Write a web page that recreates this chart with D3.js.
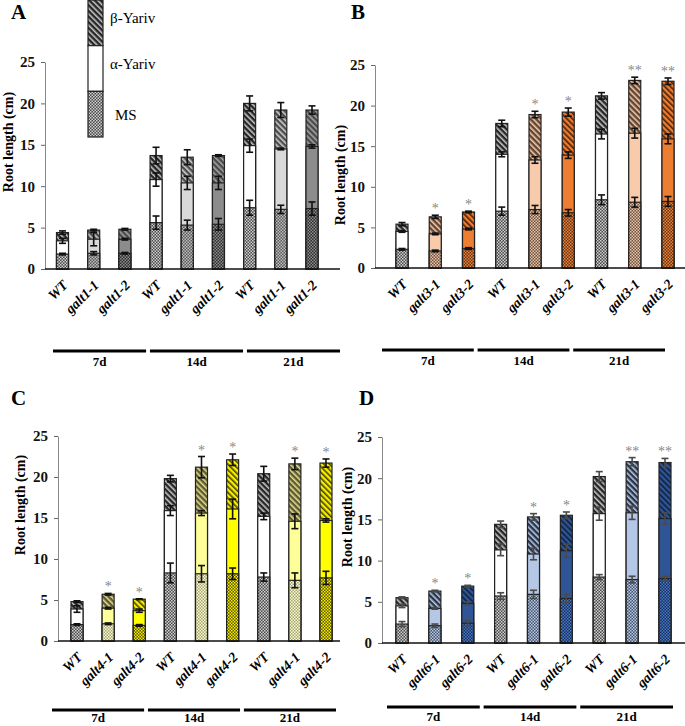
<!DOCTYPE html>
<html><head><meta charset="utf-8">
<script src="https://cdn.jsdelivr.net/npm/d3@7"></script>
<style>body{margin:0;background:#fff} svg{display:block}</style>
</head><body>
<svg id="c" width="685" height="726"></svg>
<script>
// ---------- DATA ----------
const days = ["7d", "14d", "21d"];
const yTicks = [0, 5, 10, 15, 20, 25];
const legendLabels = ["β-Yariv", "α-Yariv", "MS"];
const yTitle = "Root length (cm)";

const genoA = ["WT", "galt1-1", "galt1-2"];
const genoB = ["WT", "galt3-1", "galt3-2"];
const genoC = ["WT", "galt4-1", "galt4-2"];
const genoD = ["WT", "galt6-1", "galt6-2"];

// order: 7d(WT, m1, m2), 14d(WT, m1, m2), 21d(WT, m1, m2)
const msA    = [1.8, 1.9, 1.9, 5.6, 5.3, 5.4, 7.4, 7.2, 7.3];
const alphaA = [3.4, 3.6, 3.6, 10.8, 10.4, 10.4, 14.9, 14.5, 14.8];
const betaA  = [4.4, 4.7, 4.8, 13.7, 13.5, 13.7, 20.0, 19.2, 19.2];
const msErrA    = [0.1, 0.2, 0.1, 0.8, 0.6, 0.7, 0.9, 0.5, 0.8];
const alphaErrA = [0.3, 0.8, 0.1, 0.8, 0.8, 0.8, 0.8, 0.1, 0.2];
const betaErrA  = [0.2, 0.1, 0.1, 1.0, 0.9, 0.1, 0.9, 0.9, 0.5];
const starsA = ["", "", "", "", "", "", "", "", ""];

const msB    = [2.3, 2.1, 2.4, 7.0, 7.2, 6.8, 8.4, 8.1, 8.2];
const alphaB = [4.5, 4.2, 4.8, 14.0, 13.3, 13.9, 16.5, 16.6, 15.9];
const betaB  = [5.4, 6.3, 6.9, 17.8, 18.9, 19.2, 21.2, 23.1, 23.0];
const msErrB    = [0.1, 0.1, 0.1, 0.5, 0.5, 0.4, 0.6, 0.6, 0.6];
const alphaErrB = [0.1, 0.1, 0.1, 0.3, 0.4, 0.4, 0.6, 0.6, 0.6];
const betaErrB  = [0.2, 0.2, 0.1, 0.4, 0.4, 0.5, 0.4, 0.4, 0.4];
const starsB = ["", "*", "*", "", "*", "*", "", "**", "**"];

const msC    = [2.0, 2.1, 1.9, 8.3, 8.2, 8.2, 7.8, 7.4, 7.7];
const alphaC = [3.9, 4.0, 3.7, 15.9, 15.6, 16.1, 15.2, 14.6, 14.7];
const betaC  = [4.8, 5.7, 5.1, 19.8, 21.2, 22.1, 20.4, 21.6, 21.7];
const msErrC    = [0.1, 0.1, 0.1, 1.2, 1.0, 0.7, 0.5, 0.9, 0.8];
const alphaErrC = [0.4, 0.1, 0.2, 0.6, 0.3, 1.2, 0.4, 0.9, 0.2];
const betaErrC  = [0.1, 0.1, 0.05, 0.4, 1.3, 0.7, 0.9, 0.7, 0.5];
const starsC = ["", "*", "*", "", "*", "*", "", "*", "*"];

const msD    = [2.3, 2.1, 2.4, 5.7, 5.9, 5.4, 8.0, 7.7, 7.8];
const alphaD = [4.5, 4.2, 4.8, 11.3, 10.8, 11.2, 15.7, 15.8, 15.1];
const betaD  = [5.5, 6.3, 6.9, 14.4, 15.3, 15.5, 20.2, 22.0, 21.9];
const msErrD    = [0.3, 0.2, 0.3, 0.4, 0.5, 0.5, 0.3, 0.4, 0.3];
const alphaErrD = [0.2, 0.1, 0.2, 0.7, 0.7, 0.8, 0.8, 0.8, 0.7];
const betaErrD  = [0.1, 0.1, 0.1, 0.4, 0.4, 0.4, 0.6, 0.5, 0.5];
const starsD = ["", "*", "*", "", "*", "*", "", "**", "**"];

// ---------- STYLE / LAYOUT ----------
const serif = "Liberation Serif, Times New Roman, Times, serif";
const wtStyle = {ms: ["#4a4a4a", "#cfcfcf"], alpha: "#ffffff", beta: ["#262626", "#c4c4c4"]};
const panels = [
  {letter: "A", geno: genoA, ms: msA, al: alphaA, be: betaA, msE: msErrA, alE: alphaErrA, beE: betaErrA, stars: starsA,
   lx: 11, ly: 19, axisX: 45, xEnd: 340, y0: 269, y25: 62, first: 62.5, last: 312, grp: [53, 340], lineY: 351, dayY: 366,
   titleX: 13, titleY: 142, errCol: "#111",
   styles: [wtStyle,
     {ms: ["#5a5a5a", "#bdbdbd"], alpha: "#d9d9d9", beta: ["#4d4d4d", "#cdcdcd"]},
     {ms: ["#2f2f2f", "#8a8a8a"], alpha: "#8c8c8c", beta: ["#4a4a4a", "#a3a3a3"]}]},
  {letter: "B", geno: genoB, ms: msB, al: alphaB, be: betaB, msE: msErrB, alE: alphaErrB, beE: betaErrB, stars: starsB,
   lx: 351, ly: 19, axisX: 375, xEnd: 685, y0: 268, y25: 65, first: 402, last: 668, grp: [382, 665], lineY: 350, dayY: 365,
   titleX: 345, titleY: 175, errCol: "#111",
   styles: [wtStyle,
     {ms: ["#6e5444", "#e9c2a6"], alpha: "#f8cbad", beta: ["#5e4535", "#f2c6a5"]},
     {ms: ["#6b3513", "#e8823b"], alpha: "#ed7d31", beta: ["#ed7d31", "#4a2208"]}]},
  {letter: "C", geno: genoC, ms: msC, al: alphaC, be: betaC, msE: msErrC, alE: alphaErrC, beE: betaErrC, stars: starsC,
   lx: 11, ly: 405, axisX: 58, xEnd: 340, y0: 641, y25: 436, first: 77, last: 326, grp: [52, 336], lineY: 710, dayY: 722,
   titleX: 25, titleY: 505, errCol: "#111",
   styles: [wtStyle,
     {ms: ["#fbfbc8", "#a3a37a"], alpha: "#ffff99", beta: ["#5c5a35", "#e2dc8a"]},
     {ms: ["#5f5a00", "#f5ee00"], alpha: "#ffff00", beta: ["#f5ee00", "#4a4500"]}]},
  {letter: "D", geno: genoD, ms: msD, al: alphaD, be: betaD, msE: msErrD, alE: alphaErrD, beE: betaErrD, stars: starsD,
   lx: 359, ly: 405, axisX: 382, xEnd: 685, y0: 643, y25: 437, first: 402, last: 665, grp: [387, 673], lineY: 707, dayY: 721,
   titleX: 352, titleY: 517, errCol: "#4a4a4a",
   styles: [wtStyle,
     {ms: ["#45546b", "#b8c9e6"], alpha: "#b4c7e7", beta: ["#2b3444", "#b4c7e7"]},
     {ms: ["#16305a", "#4a78c8"], alpha: "#2f5597", beta: ["#2f5597", "#0f1f3a"]}]}
];

const svg = d3.select("#c");
const defs = svg.append("defs");
let pid = 0;
function msPat(bg, fg) {
  const id = "p" + (pid++);
  const p = defs.append("pattern").attr("id", id).attr("patternUnits", "userSpaceOnUse")
    .attr("width", 3).attr("height", 3);
  p.append("rect").attr("width", 3).attr("height", 3).attr("fill", bg);
  p.append("rect").attr("width", 1.5).attr("height", 1.5).attr("fill", fg);
  p.append("rect").attr("x", 1.5).attr("y", 1.5).attr("width", 1.5).attr("height", 1.5).attr("fill", fg);
  return "url(#" + id + ")";
}
function betaPat(bg, fg) {
  const id = "p" + (pid++);
  const p = defs.append("pattern").attr("id", id).attr("patternUnits", "userSpaceOnUse")
    .attr("width", 4).attr("height", 4).attr("patternTransform", "rotate(-45)");
  p.append("rect").attr("width", 4).attr("height", 4).attr("fill", bg);
  p.append("rect").attr("width", 1.6).attr("height", 4).attr("fill", fg);
  return "url(#" + id + ")";
}

panels.forEach(P => {
  const g = svg.append("g");
  const n = P.ms.length;
  const idx = d3.range(n);
  const x = d3.scalePoint().domain(idx).range([P.first, P.last]);
  const y = d3.scaleLinear().domain([0, 25]).range([P.y0, P.y25]);
  const gx = d3.scaleBand().domain(days).range(P.grp).paddingInner(0.04);
  const bw = 12;
  const fills = P.styles.map(s => ({ms: msPat(s.ms[0], s.ms[1]), alpha: s.alpha, beta: betaPat(s.beta[0], s.beta[1])}));

  // panel letter
  g.append("text").attr("x", P.lx).attr("y", P.ly).text(P.letter)
    .attr("font-family", serif).attr("font-weight", "bold").attr("font-size", 21);

  // y axis
  const ax = g.append("g").attr("transform", `translate(${P.axisX},0)`)
    .call(d3.axisLeft(y).tickValues(yTicks).tickSize(4).tickSizeOuter(0).tickPadding(6));
  ax.select(".domain").attr("stroke", "#888");
  ax.selectAll(".tick line").attr("stroke", "#666");
  ax.selectAll(".tick text").attr("font-family", serif).attr("font-weight", "bold")
    .attr("font-size", 15).attr("fill", "#111");

  // y title
  g.append("text").attr("transform", `translate(${P.titleX},${P.titleY}) rotate(-90)`)
    .attr("text-anchor", "middle").attr("font-family", serif).attr("font-weight", "bold")
    .attr("font-size", 14).text(yTitle);

  // bars
  idx.forEach(i => {
    const gi = i % 3;
    const f = fills[gi];
    const cx = x(i);
    const layers = [
      {v: P.be[i], fill: f.beta}, {v: P.al[i], fill: f.alpha}, {v: P.ms[i], fill: f.ms}
    ];
    layers.forEach(L => {
      g.append("rect").attr("x", cx - bw / 2).attr("width", bw)
        .attr("y", y(L.v)).attr("height", y(0) - y(L.v))
        .attr("fill", L.fill).attr("stroke", "#222").attr("stroke-width", 1.2);
    });
    [[P.be[i], P.beE[i]], [P.al[i], P.alE[i]], [P.ms[i], P.msE[i]]].forEach(([v, e]) => {
      const eg = g.append("g").attr("stroke", P.errCol).attr("stroke-width", 1.6);
      eg.append("line").attr("x1", cx).attr("x2", cx).attr("y1", y(v - e)).attr("y2", y(v + e));
      eg.append("line").attr("x1", cx - 3.5).attr("x2", cx + 3.5).attr("y1", y(v - e)).attr("y2", y(v - e));
      eg.append("line").attr("x1", cx - 3.5).attr("x2", cx + 3.5).attr("y1", y(v + e)).attr("y2", y(v + e));
    });
    if (P.stars[i]) {
      g.append("text").attr("x", cx).attr("y", y(P.be[i] + P.beE[i]) - 2)
        .attr("text-anchor", "middle").attr("font-family", serif).attr("font-size", 14)
        .attr("fill", "#888").text(P.stars[i]);
    }
    // x tick label
    g.append("text").attr("transform", `translate(${cx + 6},${P.y0 + 17}) rotate(-45)`)
      .attr("text-anchor", "end").attr("font-family", serif).attr("font-style", "italic")
      .attr("font-weight", "bold").attr("font-size", 14).text(P.geno[gi]);
  });

  // x axis line
  g.append("line").attr("x1", P.axisX).attr("x2", P.xEnd).attr("y1", P.y0).attr("y2", P.y0)
    .attr("stroke", "#111").attr("stroke-width", 1.6);

  // day group lines
  days.forEach(d => {
    g.append("line").attr("x1", gx(d)).attr("x2", gx(d) + gx.bandwidth())
      .attr("y1", P.lineY).attr("y2", P.lineY).attr("stroke", "#000").attr("stroke-width", 3);
    g.append("text").attr("x", gx(d) + gx.bandwidth() / 2).attr("y", P.dayY)
      .attr("text-anchor", "middle").attr("font-family", serif).attr("font-weight", "bold")
      .attr("font-size", 13).text(d);
  });
});

// legend in panel A
(function () {
  const s = wtStyle;
  const lg = svg.append("g");
  const ly = d3.scaleBand().domain(legendLabels).range([0, 137]);
  const fillsL = [betaPat(s.beta[0], s.beta[1]), s.alpha, msPat(s.ms[0], s.ms[1])];
  const dy = [0, 0, 6];
  legendLabels.forEach((l, k) => {
    lg.append("rect").attr("x", 88).attr("y", ly(l)).attr("width", 15).attr("height", ly.bandwidth())
      .attr("fill", fillsL[k]).attr("stroke", "#222").attr("stroke-width", 1.2);
    lg.append("text").attr("x", k === 2 ? 115 : 110).attr("y", ly(l) + ly.bandwidth() / 2 + dy[k])
      .attr("font-family", serif).attr("font-size", 15).text(l);
  });
})();
</script>
</body></html>
